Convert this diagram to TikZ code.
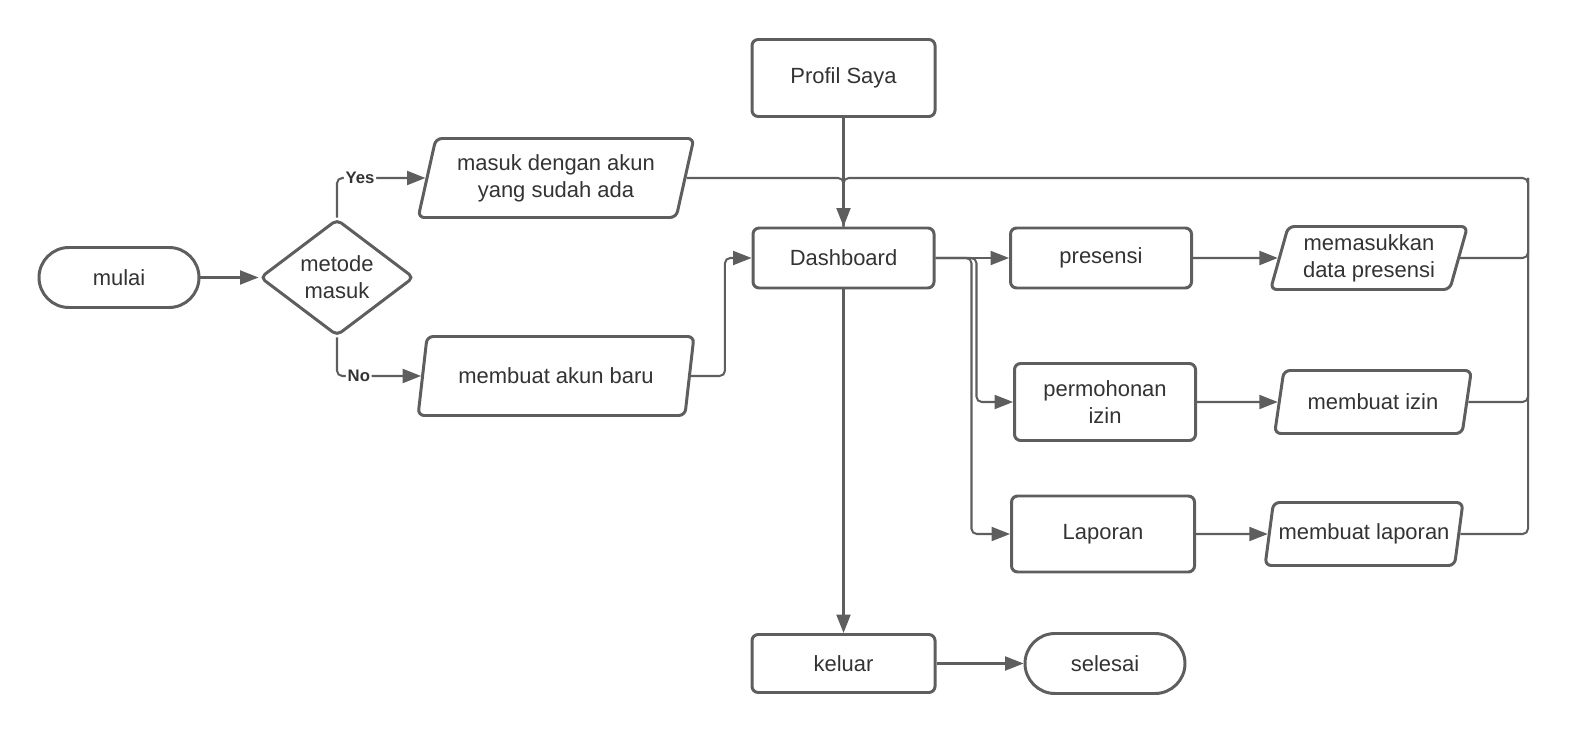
\documentclass[tikz,border=0pt]{standalone}
\usepackage{fontspec}
\setmainfont{Liberation Sans}
\usetikzlibrary{arrows.meta, shapes.geometric}

\definecolor{linegray}{HTML}{5E5E5E}
\definecolor{textgray}{HTML}{333333}

\tikzset{
    base/.style={draw=linegray, line width=1.7pt, text=textgray, align=center, font=\fontsize{12.5}{15.5}\selectfont},
    process/.style={base, rectangle, rounded corners=3.5pt, minimum width=3.62cm, minimum height=1.2cm},
    terminal/.style={base, rectangle, rounded corners=0.6cm, minimum width=3.2cm, minimum height=1.2cm},
    decision/.style={base, diamond, rounded corners=3pt, minimum width=3.08cm, minimum height=2.32cm, inner sep=0pt},
    io/.style={base, trapezium, trapezium left angle=76, trapezium right angle=104, trapezium stretches=true, rounded corners=3.5pt, inner xsep=1pt, minimum width=3.96cm, minimum height=1.26cm},
    conn/.style={draw=linegray, line width=1.15pt, rounded corners=3pt},
    flow/.style={conn, -{Triangle[length=10.5pt, width=8pt]}},
    branch/.style={font=\bfseries\fontsize{9.5}{11}\selectfont, text=textgray, fill=white, inner sep=1pt}
}

\begin{document}
\begin{tikzpicture}
        \useasboundingbox (0, 0) rectangle (31.6, 14.8);

        \node[terminal] (mulai) at (2.38, 9.25) {mulai};
        \node[decision] (metode) at (6.74, 9.25) {metode\\masuk};
        \node[io, minimum width=5.52cm, minimum height=1.58cm] (akunlama) at (11.12, 11.24) {masuk dengan akun\\yang sudah ada};
        \node[io, minimum width=5.52cm, minimum height=1.58cm] (akunbaru) at (11.12, 7.28) {membuat akun baru};

        \node[process, minimum width=3.66cm, minimum height=1.54cm] (profil) at (16.87, 13.24) {Profil Saya};
        \node[process] (dash) at (16.87, 9.64) {Dashboard};
        \node[process, minimum width=3.66cm, minimum height=1.16cm] (keluar) at (16.87, 1.53) {keluar};
        \node[terminal] (selesai) at (22.10, 1.53) {selesai};

        \node[process] (presensi) at (22.02, 9.64) {presensi};
        \node[process, minimum height=1.54cm] (izin) at (22.10, 6.76) {permohonan\\izin};
        \node[process, minimum width=3.66cm, minimum height=1.52cm] (laporan) at (22.06, 4.12) {Laporan};

        \node[io] (isipresensi) at (27.38, 9.64) {memasukkan\\data presensi};
        \node[io] (buatizin) at (27.46, 6.76) {membuat izin};
        \node[io] (buatlaporan) at (27.28, 4.12) {membuat laporan};

        \coordinate (kembali) at (30.56, 11.24);

        \draw[flow] (mulai) -- (metode);
        \draw[flow] (metode.north) |- node[branch, pos=0.63] {Yes} (akunlama.left side);
        \draw[flow] (metode.south) |- node[branch, pos=0.63] {No} (akunbaru.left side);

        \draw[conn] (akunlama.right side) -| (dash.north);
        \draw[flow] (akunbaru.right side) -- ++(0.68, 0) |- (dash.west);
        \draw[flow] (profil) -- (dash);

        \draw[flow] (dash) -- (presensi);
        \draw[flow] (dash.east) -- ++(0.82, 0) |- (izin.west);
        \draw[flow] (dash.east) -- ++(0.72, 0) |- (laporan.west);

        \draw[flow] (presensi) -- (isipresensi);
        \draw[flow] (izin) -- (buatizin);
        \draw[flow] (laporan) -- (buatlaporan);

        \draw[conn] (isipresensi.right side) -| (kembali);
        \draw[conn] (buatizin.right side) -| (kembali);
        \draw[conn] (buatlaporan.right side) -| (kembali) -| (dash.north);

        \draw[flow] (dash) -- (keluar);
        \draw[flow] (keluar) -- (selesai);
    \end{tikzpicture}
\end{document}
